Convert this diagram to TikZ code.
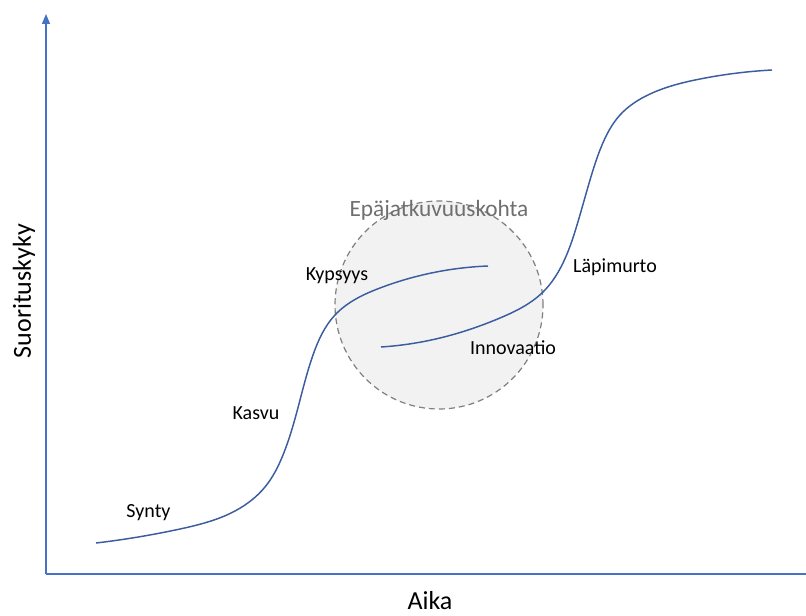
\documentclass[tikz,border=0pt]{standalone}
\usepackage{fontspec}
\setmainfont{Carlito}
\usetikzlibrary{arrows.meta,hobby}
\definecolor{axisblue}{HTML}{4472C4}
\definecolor{curveblue}{HTML}{3B5C9E}
\definecolor{circfill}{HTML}{F2F2F2}
\definecolor{circline}{HTML}{7F7F7F}
\definecolor{titlegray}{HTML}{6F6F6F}
\tikzset{
  axisline/.style={draw=axisblue, line width=0.9pt},
  scurve/.style={draw=curveblue, line width=1.1pt},
  lbl/.style={font=\fontsize{15}{18}\selectfont, text=black, inner sep=0pt},
  axlbl/.style={font=\fontsize{19.5}{23}\selectfont, text=black, inner sep=0pt},
}
\begin{document}
\begin{tikzpicture}[x=0.75pt, y=-0.75pt]
\useasboundingbox (0,0) rectangle (806,616);
% discontinuity circle
\node (circ) [circle, minimum size=208*0.75pt, fill=circfill, draw=circline, dashed, line width=0.9pt, dash pattern=on 4.5pt off 3pt, inner sep=0pt] at (439,305) {};
\node (disc) [font=\fontsize{17.5}{21}\selectfont, text=titlegray, inner sep=0pt] at (439,210) {Epäjatkuvuuskohta};
% axes
\coordinate (origin) at (46,574);
\coordinate (ytop) at (46,14);
\coordinate (xend) at (806,574);
\draw[axisline, -{Triangle[length=7.5pt, width=6pt]}] (origin) -- (ytop);
\draw[axisline] (origin) -- (xend);
% curves
\coordinate (c1s) at (96,543);
\coordinate (c1e) at (488,266);
\coordinate (c2s) at (381,347);
\coordinate (c2e) at (772,70);
\draw[scurve, use Hobby shortcut] (c1s) .. (180,529) .. (235,511) .. (265,487) .. (283,455) .. (300,400) .. (313,355) .. (335,315) .. (380,288) .. (c1e);
\draw[scurve, use Hobby shortcut] (c2s) .. (440,338) .. (500,318) .. (543,292) .. (562,265) .. (577,225) .. (590,180) .. (602,145) .. (620,115) .. (650,94) .. (700,79) .. (c2e);
% labels
\node (synty) [lbl] at (148.5,513) {Synty};
\node (kasvu) [lbl] at (256,413) {Kasvu};
\node (kyps) [lbl] at (337,276) {Kypsyys};
\node (innov) [lbl] at (513,348) {Innovaatio};
\node (lapi) [lbl] at (615,267) {Läpimurto};
\node (aika) [axlbl] at (430,601) {Aika};
\node (suor) [axlbl, rotate=90] at (24,291) {Suorituskyky};
\end{tikzpicture}
\end{document}
